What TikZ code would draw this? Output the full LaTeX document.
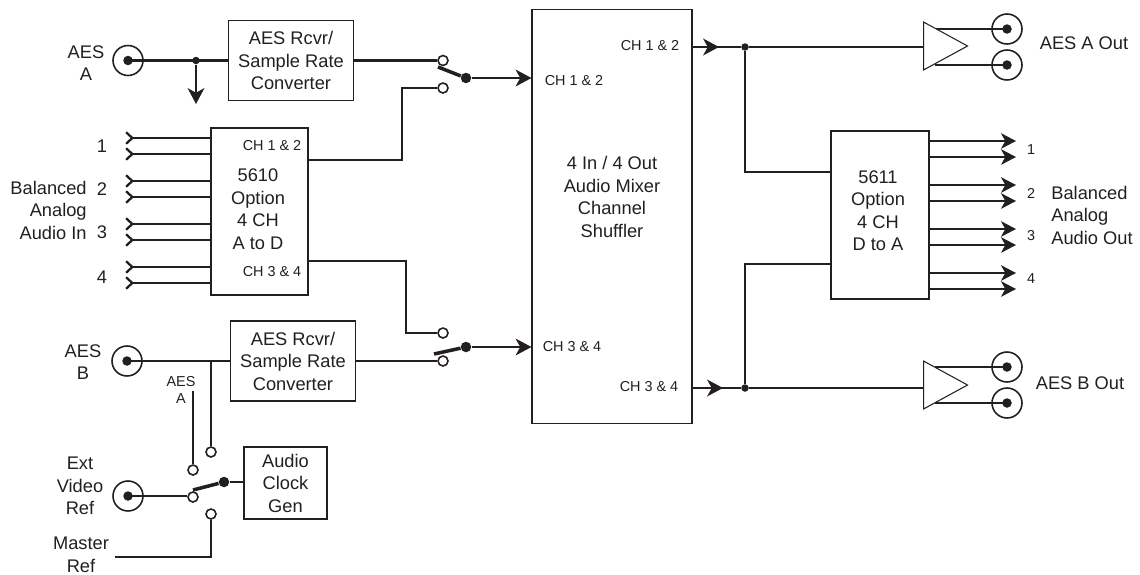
\documentclass[tikz,border=0pt]{standalone}
\usepackage{fontspec}
\setmainfont{Liberation Sans}
\usepackage{tikz}
\usetikzlibrary{shapes,shapes.geometric,arrows.meta}
\definecolor{ink}{HTML}{231F20}
\newcommand{\bigtext}{\fontsize{10.4}{12.8}\selectfont}
\newcommand{\smalltext}{\fontsize{8.2}{10}\selectfont}
\tikzstyle{block} = [rectangle, draw, line width=0.6pt, fill=white, inner sep=0pt, align=center, font=\bigtext]
\tikzstyle{txt} = [inner sep=0pt, align=center, font=\bigtext]
\tikzstyle{smalltxt} = [inner sep=0pt, align=center, font=\smalltext]
\tikzstyle{jack} = [circle, draw, line width=0.9pt, inner sep=0pt, minimum size=0.6cm, path picture={\fill (path picture bounding box.center) circle (0.095cm);}]
\tikzstyle{term} = [circle, draw, line width=0.9pt, fill=white, inner sep=0pt, minimum size=0.2cm]
\tikzstyle{knob} = [circle, fill, inner sep=0pt, minimum size=0.21cm]
\tikzstyle{junc} = [circle, fill, inner sep=0pt, minimum size=0.15cm]
\tikzstyle{amp} = [isosceles triangle, isosceles triangle stretches, shape border rotate=0, draw, line width=0.6pt, fill=white, inner sep=0pt, minimum width=0.96cm, minimum height=0.88cm]
\tikzstyle{wire} = [draw, line width=1.3pt]
\tikzstyle{arm} = [draw, line width=2pt]
\tikzstyle{line} = [draw, line width=1.3pt, -{Stealth[length=9pt, width=9.5pt, inset=2.6pt]}]
\tikzstyle{outline} = [draw, line width=1.3pt, -{Stealth[length=8.5pt, width=8.8pt, inset=2.4pt]}]
\tikzstyle{inline} = [draw, line width=1.3pt, {Straight Barb[reversed, length=3.5pt, width=6.5pt]}-]
\begin{document}
\begin{tikzpicture}[x=0.02cm, y=-0.02cm, color=ink, node distance=3cm]
      \useasboundingbox (0,0) rectangle (1140,575);

      % sources
      \node [jack] (jackA) at (128,60.5) {};
      \node [jack] (jackB) at (127,361) {};
      \node [jack] (jackRef) at (128,496) {};
      \node [txt] (aesAtxt) at (86,63) {AES\\A};
      \node [txt] (aesBtxt) at (83,362) {AES\\B};
      \node [txt] (exttxt) at (80,486) {Ext\\Video\\Ref};
      \node [txt] (mastertxt) at (81,555) {Master\\Ref};
      \node [smalltxt] (aesAsmall) at (181,390) {AES\\A};

      % blocks
      \node [block, node distance=3.26cm, right of=jackA, minimum width=2.5cm, minimum height=1.6cm] (rcvrA) {AES Rcvr/\\Sample Rate\\Converter};
      \node [block, node distance=3.32cm, right of=jackB, minimum width=2.5cm, minimum height=1.6cm] (rcvrB) {AES Rcvr/\\Sample Rate\\Converter};
      \node [block, minimum width=1.66cm, minimum height=1.44cm] (clock) at (285.5,483) {Audio\\Clock\\Gen};
      \node [block, minimum width=1.94cm, minimum height=3.34cm] (atod) at (259.5,211.5) {};
      \node [block, minimum width=3.2cm, minimum height=8.3cm] (mixer) at (612,216.5) {};
      \node [block, minimum width=1.96cm, minimum height=3.36cm] (dtoa) at (880,215) {};
      \node [txt] (atodtxt) at (258,209) {5610\\Option\\4 CH\\A to D};
      \node [txt] (mixertxt) at (612,197) {4 In / 4 Out\\Audio Mixer\\Channel\\Shuffler};
      \node [txt] (dtoatxt) at (878,210.5) {5611\\Option\\4 CH\\D to A};
      \node [smalltxt] (atodin) at (272,146) {CH 1 \& 2};
      \node [smalltxt] (atodout) at (272,272) {CH 3 \& 4};
      \node [smalltxt] (mixinA) at (574,81) {CH 1 \& 2};
      \node [smalltxt] (mixinB) at (572,347) {CH 3 \& 4};
      \node [smalltxt] (mixoutA) at (650,46) {CH 1 \& 2};
      \node [smalltxt] (mixoutB) at (649,387) {CH 3 \& 4};

      % balanced inputs
      \node [txt, anchor=east, align=right] (balin) at (87,210) {Balanced\\Analog\\Audio In};
      \node [txt] (in1txt) at (102,146) {1};
      \node [txt] (in2txt) at (102,189) {2};
      \node [txt] (in3txt) at (102,232) {3};
      \node [txt] (in4txt) at (102,277) {4};
      \coordinate (inA) at (125,138);
      \coordinate (inB) at (125,154);
      \coordinate (inC) at (125,181);
      \coordinate (inD) at (125,197);
      \coordinate (inE) at (125,224);
      \coordinate (inF) at (125,240);
      \coordinate (inG) at (125,267);
      \coordinate (inH) at (125,283);
      \path [inline] (inA) -- (inA -| atod.west);
      \path [inline] (inB) -- (inB -| atod.west);
      \path [inline] (inC) -- (inC -| atod.west);
      \path [inline] (inD) -- (inD -| atod.west);
      \path [inline] (inE) -- (inE -| atod.west);
      \path [inline] (inF) -- (inF -| atod.west);
      \path [inline] (inG) -- (inG -| atod.west);
      \path [inline] (inH) -- (inH -| atod.west);

      % top switch
      \node [term] (swAup) at (443,60.5) {};
      \node [term] (swAdn) at (443,88) {};
      \node [knob] (swAknob) at (466,78) {};
      \coordinate (swAarm) at (438,67);
      \coordinate (atodA) at (308,160);
      \coordinate (atodAup) at (402,160);
      \path [wire] (rcvrA.east) -- (swAup);
      \path [wire] (atodA) -- (atodAup) |- (swAdn);
      \path [arm] (swAarm) -- (swAknob);
      \path [line] (swAknob) -- (swAknob -| mixer.west);

      % bottom switch
      \node [term] (swBup) at (443,333) {};
      \node [term] (swBdn) at (443,361) {};
      \node [knob] (swBknob) at (466,347) {};
      \coordinate (swBarm) at (434,354);
      \coordinate (atodB) at (308,261);
      \coordinate (atodBdn) at (406,261);
      \path [wire] (rcvrB.east) -- (swBdn);
      \path [wire] (atodB) -- (atodBdn) |- (swBup);
      \path [arm] (swBarm) -- (swBknob);
      \path [line] (swBknob) -- (swBknob -| mixer.west);

      % clock switch
      \node [term] (swCa) at (193,470) {};
      \node [term] (swCb) at (211,452) {};
      \node [term] (swCc) at (193,497) {};
      \node [term] (swCd) at (211,514) {};
      \node [knob] (swCknob) at (224,482) {};
      \coordinate (swCarm) at (193,490);
      \coordinate (aesAfeed) at (193,391);
      \coordinate (aesBtap) at (211,361);
      \coordinate (masterend) at (115,557);
      \coordinate (mastercorner) at (211,557);
      \path [wire] (jackB.center) -- (rcvrB.west);
      \path [wire] (aesBtap) -- (swCb);
      \path [wire] (aesAfeed) -- (swCa);
      \path [wire] (jackRef.center) -- (jackRef.center -| swCc.west);
      \path [wire] (masterend) -- (mastercorner) -- (swCd);
      \path [arm] (swCarm) -- (swCknob);
      \path [wire] (swCknob) -- (clock.west |- swCknob);

      % AES A feed
      \node [junc] (aesAtap) at (196,60.5) {};
      \coordinate (aesAdown) at (196,104);
      \path [wire] (jackA.center) -- (rcvrA.west);
      \path [line] (aesAtap) -- (aesAdown);

      % mixer outputs
      \node [junc] (juncA) at (745,47) {};
      \node [junc] (juncB) at (745,388) {};
      \coordinate (arrA) at (719,47);
      \coordinate (arrB) at (723,388);
      \coordinate (dtoaA) at (745,172);
      \coordinate (dtoaB) at (745,264);
      \path [wire] (juncA -| mixer.east) -- (juncA);
      \path [wire] (juncB -| mixer.east) -- (juncB);
      \path [line] (juncA -| mixer.east) -- (arrA);
      \path [line] (juncB -| mixer.east) -- (arrB);
      \path [wire] (juncA) -- (dtoaA) -- (dtoaA -| dtoa.west);
      \path [wire] (juncB) -- (dtoaB) -- (dtoaB -| dtoa.west);

      % AES outputs
      \node [jack] (outAa) at (1007,29) {};
      \node [jack] (outAb) at (1007,65) {};
      \node [jack] (outBa) at (1007,367) {};
      \node [jack] (outBb) at (1007,403) {};
      \coordinate (tapAa) at (935,29);
      \coordinate (tapAb) at (935,65);
      \coordinate (tapBa) at (935,367);
      \coordinate (tapBb) at (935,403);
      \path [wire] (tapAa) -- (outAa.center);
      \path [wire] (tapAb) -- (outAb.center);
      \path [wire] (tapBa) -- (outBa.center);
      \path [wire] (tapBb) -- (outBb.center);
      \node [amp, anchor=lower side] (ampA) at (923,46) {};
      \node [amp, anchor=lower side] (ampB) at (923,385) {};
      \path [wire] (juncA) -- (juncA -| ampA.lower side);
      \path [wire] (juncB) -- (juncB -| ampB.lower side);
      \node [txt] (outAtxt) at (1084,43) {AES A Out};
      \node [txt] (outBtxt) at (1080,383) {AES B Out};

      % balanced outputs
      \coordinate (outA) at (1016,141);
      \coordinate (outB) at (1016,157);
      \coordinate (outC) at (1016,185);
      \coordinate (outD) at (1016,201);
      \coordinate (outE) at (1016,229);
      \coordinate (outF) at (1016,245);
      \coordinate (outG) at (1016,273);
      \coordinate (outH) at (1016,289);
      \path [outline] (outA -| dtoa.east) -- (outA);
      \path [outline] (outB -| dtoa.east) -- (outB);
      \path [outline] (outC -| dtoa.east) -- (outC);
      \path [outline] (outD -| dtoa.east) -- (outD);
      \path [outline] (outE -| dtoa.east) -- (outE);
      \path [outline] (outF -| dtoa.east) -- (outF);
      \path [outline] (outG -| dtoa.east) -- (outG);
      \path [outline] (outH -| dtoa.east) -- (outH);
      \node [smalltxt] (out1txt) at (1031,150) {1};
      \node [smalltxt] (out2txt) at (1031,193) {2};
      \node [smalltxt] (out3txt) at (1031,236) {3};
      \node [smalltxt] (out4txt) at (1031,279) {4};
      \node [txt, anchor=west, align=left] (balout) at (1051,215) {Balanced\\Analog\\Audio Out};
    \end{tikzpicture}
\end{document}
